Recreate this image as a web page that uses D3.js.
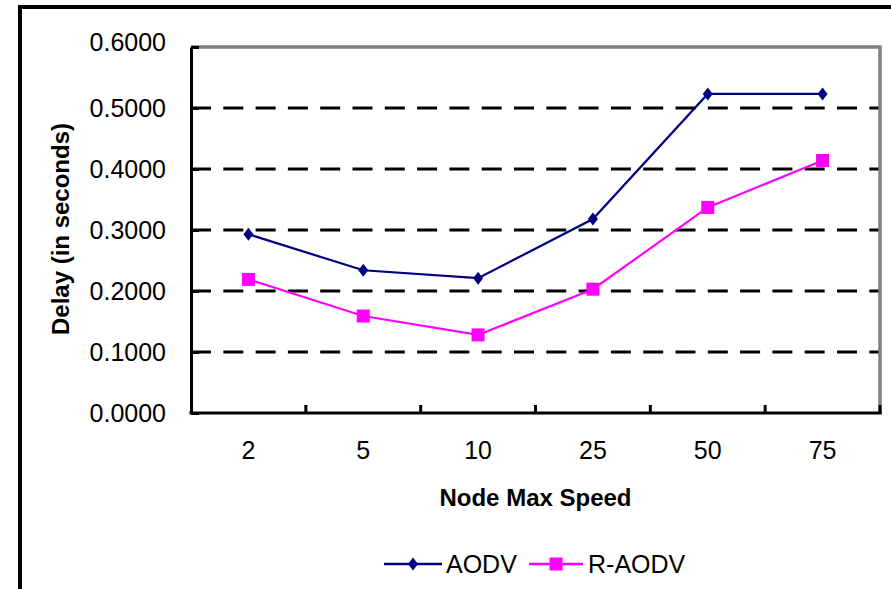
<!DOCTYPE html>
<html>
<head>
<meta charset="utf-8">
<script src="https://cdn.jsdelivr.net/npm/d3@7"></script>
<style>
  body { margin: 0; background: #fff; }
  svg { display: block; }
  text { font-family: "Liberation Sans", Arial, sans-serif; fill: #000; }
</style>
</head>
<body>
<svg id="chart" width="891" height="589"></svg>
<script>
// ---- data ----
const categories = ["2", "5", "10", "25", "50", "75"];
const aodv  = [0.293, 0.234, 0.221, 0.318, 0.523, 0.523];
const raodv = [0.219, 0.159, 0.128, 0.203, 0.337, 0.414];
const yTicks = [0, 0.1, 0.2, 0.3, 0.4, 0.5, 0.6];
const seriesNames = ["AODV", "R-AODV"];
const xTitle = "Node Max Speed";
const yTitle = "Delay (in seconds)";

// ---- layout ----
const svg = d3.select("#chart");
const W = 891, H = 589;
const plot = { left: 191, right: 880, top: 47, bottom: 413 };

svg.append("rect").attr("width", W).attr("height", H).attr("fill", "#fff");

// outer frame (left + top visible)
svg.append("path")
  .attr("d", `M20,${H} L20,7 L${W},7`)
  .attr("fill", "none").attr("stroke", "#000").attr("stroke-width", 4);

const x = d3.scaleBand().domain(categories).range([plot.left, plot.right]).padding(0);
const y = d3.scaleLinear().domain([0, 0.6]).range([plot.bottom, plot.top]);

// gridlines (dashed)
svg.append("g").selectAll("line")
  .data(yTicks.filter(v => v > 0 && v < 0.6))
  .join("line")
  .attr("x1", plot.left).attr("x2", plot.right)
  .attr("y1", d => y(d)).attr("y2", d => y(d))
  .attr("stroke", "#000").attr("stroke-width", 3)
  .attr("stroke-dasharray", "20,12.3");

// plot border top/right (grey)
svg.append("path")
  .attr("d", `M${plot.left},${plot.top} L${plot.right},${plot.top} L${plot.right},${plot.bottom}`)
  .attr("fill", "none").attr("stroke", "#808080").attr("stroke-width", 3.5);

// y axis
const yAxis = d3.axisLeft(y).tickValues(yTicks).tickFormat(d3.format(".4f"))
  .tickSizeInner(-8).tickSizeOuter(0).tickPadding(25);
const gy = svg.append("g").attr("transform", `translate(${plot.left},0)`).call(yAxis);
gy.select(".domain").attr("stroke", "#000").attr("stroke-width", 3);
gy.selectAll(".tick line").attr("stroke", "#000").attr("stroke-width", 3);
gy.selectAll(".tick text").attr("font-size", 25).attr("font-family", "Liberation Sans, Arial, sans-serif")
  .attr("dy", d => d === 0.6 ? "0.12em" : "0.32em");

// x axis labels
const xAxis = d3.axisBottom(x).tickSize(0).tickPadding(28);
const gx = svg.append("g").attr("transform", `translate(0,${plot.bottom})`).call(xAxis);
gx.select(".domain").remove();
gx.selectAll(".tick text").attr("font-size", 25).attr("font-family", "Liberation Sans, Arial, sans-serif");

// x boundary ticks (inward)
const bounds = categories.map(c => x(c)).concat([x(categories[categories.length - 1]) + x.bandwidth()]).slice(1);
svg.append("g").selectAll("line").data(bounds).join("line")
  .attr("x1", d => d).attr("x2", d => d)
  .attr("y1", plot.bottom).attr("y2", plot.bottom - 8)
  .attr("stroke", "#000").attr("stroke-width", 3);

// bottom axis line
svg.append("line")
  .attr("x1", plot.left - 1.5).attr("x2", plot.right + 1.75)
  .attr("y1", plot.bottom).attr("y2", plot.bottom)
  .attr("stroke", "#000").attr("stroke-width", 3);

// titles
svg.append("text")
  .attr("x", (plot.left + plot.right) / 2).attr("y", 506)
  .attr("text-anchor", "middle").attr("font-size", 24).attr("font-weight", "bold")
  .text(xTitle);
svg.append("text")
  .attr("transform", `translate(69,229) rotate(-90)`)
  .attr("text-anchor", "middle").attr("font-size", 24).attr("font-weight", "bold")
  .text(yTitle);

// series
const cx = c => x(c) + x.bandwidth() / 2;
const line = d3.line().x((d, i) => cx(categories[i])).y(d => y(d));
const colors = ["#000080", "#FF00FF"];
const diamond = "M0,-6.5 L5,0 L0,6.5 L-5,0 Z";

svg.append("path").datum(aodv).attr("d", line)
  .attr("fill", "none").attr("stroke", colors[0]).attr("stroke-width", 2.2);
svg.append("path").datum(raodv).attr("d", line)
  .attr("fill", "none").attr("stroke", colors[1]).attr("stroke-width", 2.2);

svg.append("g").selectAll("path").data(aodv).join("path")
  .attr("transform", (d, i) => `translate(${cx(categories[i])},${y(d)})`)
  .attr("d", diamond).attr("fill", colors[0]);
svg.append("g").selectAll("rect").data(raodv).join("rect")
  .attr("x", (d, i) => cx(categories[i]) - 6.5).attr("y", d => y(d) - 6.5)
  .attr("width", 13).attr("height", 13).attr("fill", colors[1]);

// legend
const legendY = 564;
const legendItems = [
  { name: seriesNames[0], x1: 384, x2: 442, tx: 446, color: colors[0], marker: "diamond" },
  { name: seriesNames[1], x1: 529, x2: 583, tx: 588, color: colors[1], marker: "square" }
];
legendItems.forEach(it => {
  svg.append("line").attr("x1", it.x1).attr("x2", it.x2)
    .attr("y1", legendY).attr("y2", legendY)
    .attr("stroke", it.color).attr("stroke-width", 2.5);
  const mx = (it.x1 + it.x2) / 2;
  if (it.marker === "diamond") {
    svg.append("path").attr("transform", `translate(${mx},${legendY})`)
      .attr("d", diamond).attr("fill", it.color);
  } else {
    svg.append("rect").attr("x", mx - 6.5).attr("y", legendY - 6.5)
      .attr("width", 13).attr("height", 13).attr("fill", it.color);
  }
  svg.append("text").attr("x", it.tx).attr("y", legendY + 9)
    .attr("font-size", 25).text(it.name);
});
</script>
</body>
</html>
